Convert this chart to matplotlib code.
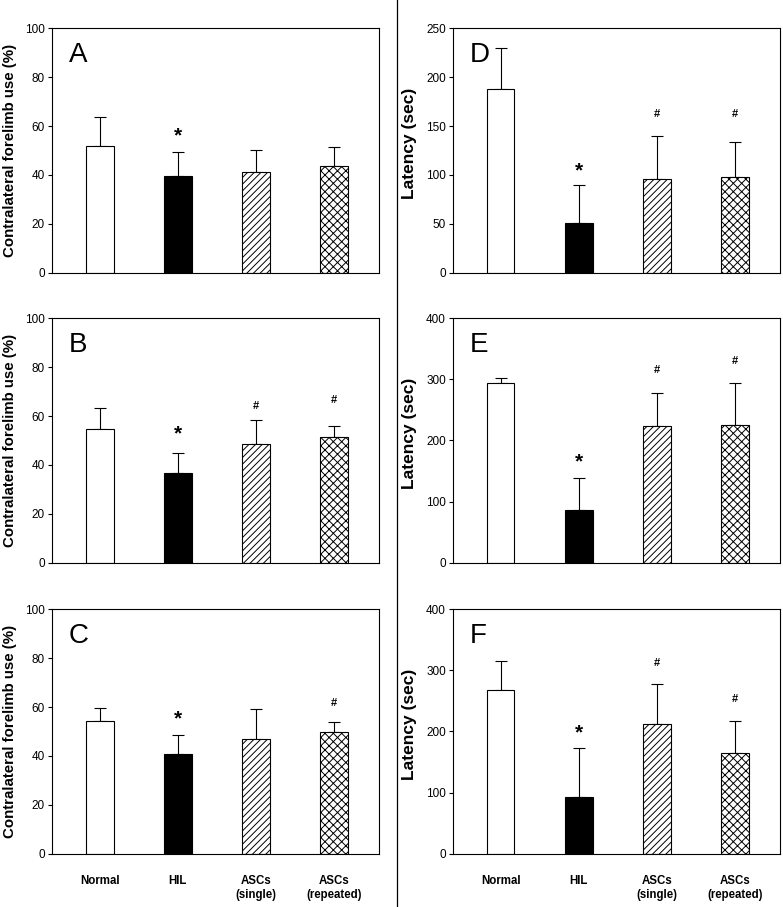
import matplotlib
matplotlib.use("Agg")
import matplotlib.pyplot as plt
from matplotlib.lines import Line2D

groups = ["Normal", "HIL", "ASCs\n(single)", "ASCs\n(repeated)"]

# forelimb use (%) — panels A, B, C
a_mean = [51.8, 39.4, 41.1, 43.5]
a_err = [11.8, 10.0, 9.0, 7.9]
b_mean = [54.8, 36.6, 48.6, 51.3]
b_err = [8.6, 8.2, 9.9, 4.8]
c_mean = [54.2, 40.9, 46.9, 49.8]
c_err = [5.4, 7.5, 12.4, 4.0]

# latency (sec) — panels D, E, F
d_mean = [188.0, 51.0, 95.8, 97.5]
d_err = [42.0, 38.7, 43.7, 35.9]
e_mean = [294.1, 86.2, 224.3, 225.9]
e_err = [7.7, 52.4, 54.0, 68.2]
f_mean = [268.5, 93.3, 211.7, 165.3]
f_err = [47.5, 80.2, 65.5, 52.4]

# significance marks: (group index, symbol, y position)
a_marks = [(1, "*", 58.4)]
b_marks = [(1, "*", 55.0), (2, "#", 64.5), (3, "#", 67.0)]
c_marks = [(1, "*", 57.4), (3, "#", 62.2)]
d_marks = [(1, "*", 110.8), (2, "#", 163.0), (3, "#", 163.0)]
e_marks = [(1, "*", 174.6), (2, "#", 317.0), (3, "#", 332.0)]
f_marks = [(1, "*", 208.0), (2, "#", 313.0), (3, "#", 254.0)]

pct_label = "Contralateral forelimb use (%)"
lat_label = "Latency (sec)"

plt.rcParams["font.family"] = ["Liberation Sans", "DejaVu Sans"]
plt.rcParams["hatch.linewidth"] = 0.7

fig = plt.figure(figsize=(7.83, 9.07), dpi=100)

faces = ["white", "black", "white", "white"]
hatches = [None, None, "/////", "xxxx"]

panels = [
    ("A", a_mean, a_err, a_marks, 100, 20, pct_label, 0.0664, 0.6993),
    ("B", b_mean, b_err, b_marks, 100, 20, pct_label, 0.0664, 0.3796),
    ("C", c_mean, c_err, c_marks, 100, 20, pct_label, 0.0664, 0.0588),
    ("D", d_mean, d_err, d_marks, 250, 50, lat_label, 0.5785, 0.6993),
    ("E", e_mean, e_err, e_marks, 400, 100, lat_label, 0.5785, 0.3796),
    ("F", f_mean, f_err, f_marks, 400, 100, lat_label, 0.5785, 0.0588),
]

x = list(range(len(groups)))

for letter, mean, err, marks, ymax, ystep, ylab, left, bottom in panels:
    ax = fig.add_axes([left, bottom, 0.418, 0.2695])
    ax.bar(x, mean, width=0.355, color=faces, edgecolor="black",
           linewidth=0.8, hatch=hatches, zorder=2)
    # upper error bars only
    ax.errorbar(x, mean, yerr=[[0] * len(err), err], fmt="none",
                ecolor="black", elinewidth=0.8, capsize=4, capthick=0.8, zorder=1)
    for gi, sym, yy in marks:
        if sym == "*":
            ax.annotate(sym, (gi, yy), xytext=(0, -8.3), textcoords="offset points",
                        ha="center", va="baseline", fontsize=15, fontweight="bold")
        else:
            ax.annotate(sym, (gi, yy), xytext=(0, -2.8), textcoords="offset points",
                        ha="center", va="baseline", fontsize=8, fontweight="bold")

    ax.set_xlim(-0.61, 3.58)
    ax.set_ylim(0, ymax)
    ax.set_yticks(range(0, ymax + 1, ystep))
    ax.tick_params(axis="y", direction="out", length=3, pad=2, labelsize=8.5, width=0.8)
    ax.set_xticks(x)
    ax.tick_params(axis="x", direction="in", length=2, width=0.8)
    if bottom < 0.1:
        ax.set_xticklabels(groups, fontsize=8.3, fontweight="bold", linespacing=1.3)
        ax.tick_params(axis="x", pad=15)
    else:
        ax.set_xticklabels([])
    for s in ax.spines.values():
        s.set_linewidth(0.8)

    if left < 0.5:
        ax.set_ylabel(ylab, fontsize=10.8, fontweight="bold")
        ax.yaxis.set_label_coords(-0.106, 0.5)
    else:
        ax.set_ylabel(ylab, fontsize=12.5, fontweight="bold")
        ax.yaxis.set_label_coords(-0.11, 0.53)
    ax.text(0.052, 0.862, letter, transform=ax.transAxes, fontsize=20,
            ha="left", va="baseline")

fig.add_artist(Line2D([0.507, 0.507], [0, 1], transform=fig.transFigure,
                      color="black", linewidth=0.9))

fig.savefig("out.png", dpi=100)
